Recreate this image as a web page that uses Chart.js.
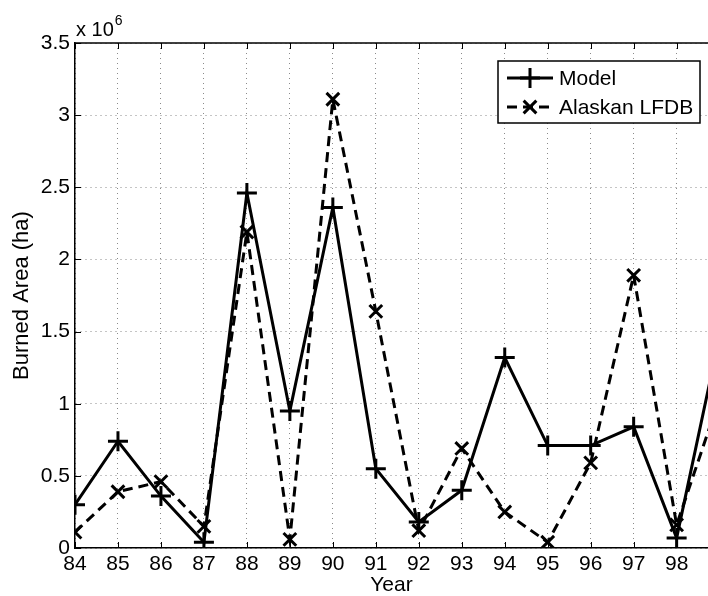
<!DOCTYPE html>
<html>
<head>
<meta charset="utf-8">
<script src="https://cdn.jsdelivr.net/npm/chart.js@4/dist/chart.umd.min.js"></script>
<style>
  html, body { margin: 0; padding: 0; background: #fff; }
  #wrap { width: 708px; height: 596px; }
</style>
</head>
<body>
<div id="wrap"><canvas id="burnChart" width="708" height="596"></canvas></div>
<script>
// values in units of 10^6 ha
var years = [84, 85, 86, 87, 88, 89, 90, 91, 92, 93, 94, 95, 96, 97, 98, 99];
var modelArea = [0.30, 0.74, 0.36, 0.04, 2.46, 0.95, 2.36, 0.55, 0.18, 0.40, 1.32, 0.71, 0.71, 0.84, 0.07, 1.47];
var lfdbArea = [0.11, 0.39, 0.46, 0.15, 2.19, 0.06, 3.11, 1.64, 0.12, 0.69, 0.25, 0.04, 0.59, 1.89, 0.16, 1.04];
var yTicks = [0, 0.5, 1, 1.5, 2, 2.5, 3, 3.5];

var FONT = "'Liberation Sans', Arial, Helvetica, sans-serif";

function toPoints(xs, ys) {
    return xs.map(function (x, i) { return { x: x, y: ys[i] }; });
}

// frame top, inward tick marks, the x 10^6 multiplier and the boxed legend
var matlabAxes = {
    id: 'matlabAxes',
    afterDraw: function (chart) {
        var ctx = chart.ctx;
        var area = chart.chartArea;
        var xs = chart.scales.x, ys = chart.scales.y;
        ctx.save();
        ctx.strokeStyle = '#000';
        ctx.lineWidth = 1.5;
        ctx.beginPath();
        ctx.moveTo(area.left, area.top);
        ctx.lineTo(area.right, area.top);
        ctx.stroke();

        ctx.lineWidth = 1;
        ctx.beginPath();
        xs.ticks.forEach(function (t) {
            var px = Math.round(xs.getPixelForValue(t.value)) + 0.5;
            ctx.moveTo(px, area.bottom); ctx.lineTo(px, area.bottom - 6);
            ctx.moveTo(px, area.top); ctx.lineTo(px, area.top + 6);
        });
        ys.ticks.forEach(function (t) {
            var py = Math.round(ys.getPixelForValue(t.value)) + 0.5;
            ctx.moveTo(area.left, py); ctx.lineTo(area.left + 6, py);
        });
        ctx.stroke();

        // exponent label
        ctx.fillStyle = '#000';
        ctx.textBaseline = 'alphabetic';
        ctx.textAlign = 'left';
        ctx.font = '20px ' + FONT;
        ctx.fillText('x 10', area.left + 1, area.top - 7);
        var w = ctx.measureText('x 10').width;
        ctx.font = '14px ' + FONT;
        ctx.fillText('6', area.left + 1 + w + 1, area.top - 18);

        // legend
        var bx = 498, by = 61, bw = 202, bh = 62;
        ctx.fillStyle = '#fff';
        ctx.fillRect(bx, by, bw, bh);
        ctx.lineWidth = 1.5;
        ctx.strokeStyle = '#000';
        ctx.strokeRect(bx, by, bw, bh);
        chart.data.datasets.forEach(function (ds, i) {
            var cy = by + 17 + i * 29;
            ctx.save();
            ctx.strokeStyle = ds.borderColor;
            ctx.lineWidth = ds.borderWidth;
            ctx.setLineDash(ds.borderDash || []);
            ctx.beginPath();
            ctx.moveTo(bx + 9, cy);
            ctx.lineTo(bx + 55, cy);
            ctx.stroke();
            ctx.setLineDash([]);
            Chart.helpers.drawPoint(ctx, {
                pointStyle: ds.pointStyle,
                radius: ds.pointRadius,
                borderWidth: ds.pointBorderWidth,
                rotation: 0
            }, bx + 32, cy);
            ctx.restore();
            ctx.fillStyle = '#000';
            ctx.font = '21px ' + FONT;
            ctx.textBaseline = 'middle';
            ctx.fillText(ds.label, bx + 61, cy + 1);
        });
        ctx.restore();
    }
};

var ctx = document.getElementById('burnChart');
var burnChart = new Chart(ctx, {
    type: 'line',
    data: {
        datasets: [{
            label: 'Model',
            data: toPoints(years, modelArea),
            borderColor: '#000',
            backgroundColor: '#000',
            borderWidth: 3,
            pointStyle: 'cross',
            pointRadius: 10,
            pointBorderWidth: 3,
            pointBorderColor: '#000',
            fill: false,
            tension: 0
        }, {
            label: 'Alaskan LFDB',
            data: toPoints(years, lfdbArea),
            borderColor: '#000',
            backgroundColor: '#000',
            borderWidth: 3,
            borderDash: [10, 6],
            pointStyle: 'crossRot',
            pointRadius: 9,
            pointBorderWidth: 3,
            pointBorderColor: '#000',
            fill: false,
            tension: 0
        }]
    },
    options: {
        responsive: false,
        animation: false,
        layout: { autoPadding: false, padding: { top: 43, right: 0, bottom: 0, left: 0 } },
        plugins: {
            legend: { display: false },
            tooltip: { enabled: false }
        },
        scales: {
            x: {
                type: 'linear',
                min: 84,
                max: 98.73,
                afterFit: function (s) {
                    s.height = 48;
                    s.paddingLeft = 0;
                    s.paddingRight = 0;
                },
                ticks: {
                    stepSize: 1,
                    includeBounds: false,
                    color: '#000',
                    padding: 4,
                    maxRotation: 0,
                    font: { family: FONT, size: 21 },
                    callback: function (v) { return String(v); }
                },
                grid: { color: '#8a8a8a', lineWidth: 1, drawTicks: false },
                border: { display: true, color: '#000', width: 1.5, dash: [1, 4] },
                title: {
                    display: true,
                    text: 'Year',
                    color: '#000',
                    font: { family: FONT, size: 21 },
                    padding: { top: 0, bottom: -2 }
                }
            },
            y: {
                min: 0,
                max: 3.5,
                afterFit: function (s) { s.width = 75; },
                afterBuildTicks: function (s) {
                    s.ticks = yTicks.map(function (v) { return { value: v }; });
                },
                ticks: {
                    color: '#000',
                    padding: 5,
                    font: { family: FONT, size: 21 },
                    callback: function (v) { return String(v); }
                },
                grid: { color: '#8a8a8a', lineWidth: 1, drawTicks: false },
                border: { display: true, color: '#000', width: 1.5, dash: [1, 4] },
                title: {
                    display: true,
                    text: 'Burned Area (ha)',
                    color: '#000',
                    font: { family: FONT, size: 22 },
                    padding: { top: 9, bottom: 0 }
                }
            }
        }
    },
    plugins: [matlabAxes]
});
</script>
</body>
</html>
